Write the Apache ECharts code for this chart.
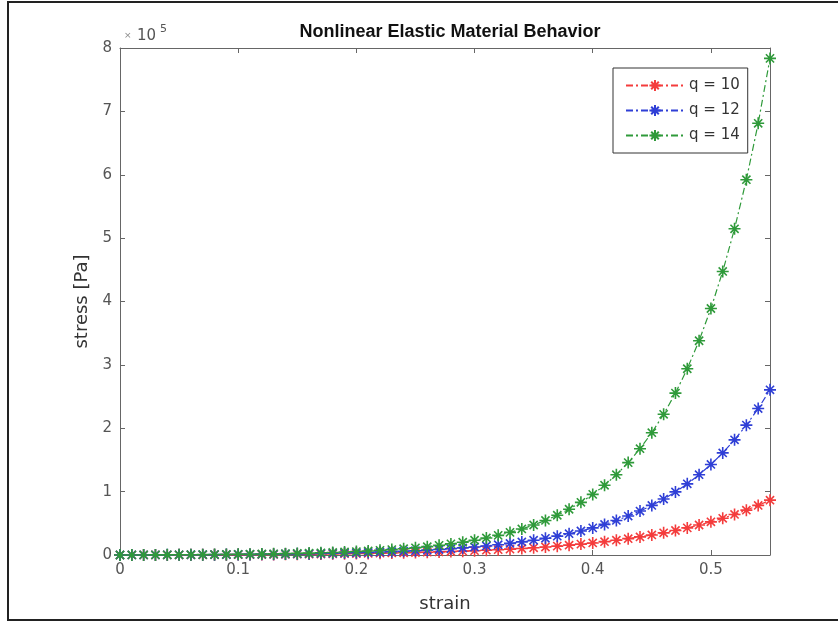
<!DOCTYPE html>
<html>
<head>
<meta charset="utf-8">
<title>Nonlinear Elastic Material Behavior</title>
<script src="https://cdn.jsdelivr.net/npm/echarts@6/dist/echarts.min.js"></script>
<style>
html, body { margin: 0; padding: 0; background: #fff; }
#chart { width: 838px; height: 623px; }
</style>
</head>
<body>
<div id="chart"></div>
<script>
// strain values (x)
var strain = [0, 0.01, 0.02, 0.03, 0.04, 0.05, 0.06, 0.07, 0.08, 0.09,
    0.10, 0.11, 0.12, 0.13, 0.14, 0.15, 0.16, 0.17, 0.18, 0.19,
    0.20, 0.21, 0.22, 0.23, 0.24, 0.25, 0.26, 0.27, 0.28, 0.29,
    0.30, 0.31, 0.32, 0.33, 0.34, 0.35, 0.36, 0.37, 0.38, 0.39,
    0.40, 0.41, 0.42, 0.43, 0.44, 0.45, 0.46, 0.47, 0.48, 0.49,
    0.50, 0.51, 0.52, 0.53, 0.54, 0.55];

// stress [Pa], q = 10
var stressQ10 = [0, 40, 80, 120, 170, 230, 290, 360, 440, 520,
    610, 710, 820, 950, 1080, 1240, 1400, 1590, 1790, 2020,
    2270, 2540, 2850, 3190, 3560, 3970, 4420, 4930, 5480, 6100,
    6780, 7530, 8350, 9270, 10280, 11400, 12640, 14000, 15510, 17180,
    19030, 21070, 23320, 25810, 28560, 31600, 34960, 38680, 42780, 47320,
    52330, 57870, 64000, 70760, 78240, 86510];

// stress [Pa], q = 12
var stressQ12 = [0, 45, 96, 154, 219, 292, 374, 467, 572, 691,
    824, 974, 1144, 1334, 1550, 1793, 2066, 2375, 2723, 3116,
    3558, 4057, 4620, 5254, 5969, 6775, 7684, 8709, 9865, 11170,
    12640, 14290, 16160, 18270, 20640, 23320, 26340, 29740, 33580, 37900,
    42780, 48280, 54480, 61470, 69360, 78240, 88270, 99570, 112300, 126670,
    142860, 161120, 181710, 204920, 231090, 260600];

// stress [Pa], q = 14
var stressQ14 = [0, 53, 115, 185, 267, 360, 467, 591, 733, 897,
    1085, 1301, 1550, 1836, 2165, 2544, 2980, 3481, 4057, 4720,
    5483, 6360, 7369, 8530, 9865, 11400, 13170, 15200, 17540, 20230,
    23320, 26880, 30970, 35680, 41090, 47320, 54480, 62720, 72200, 83100,
    95650, 110070, 126670, 145760, 167710, 192970, 222020, 255440, 293880, 338090,
    388950, 447450, 514750, 592150, 681190, 783610];

var seriesNames = ['q = 10', 'q = 12', 'q = 14'];
var seriesColors = ['#f43c3c', '#2f3fd6', '#2f9a3a'];
var xTicks = [0, 0.1, 0.2, 0.3, 0.4, 0.5];
var yTicks = [0, 1, 2, 3, 4, 5, 6, 7, 8]; // x 10^5

var asterisk = 'path://M5 0L5 10M0 5L10 5M1.6 1.6L8.4 8.4M8.4 1.6L1.6 8.4';
var tickFont = 'DejaVu Sans';

function pairs(ys) {
    var out = [];
    for (var i = 0; i < strain.length; i++) out.push([strain[i], ys[i]]);
    return out;
}

function makeSeries(name, ys, color) {
    return {
        name: name,
        type: 'line',
        data: pairs(ys),
        symbol: asterisk,
        symbolSize: 12,
        showAllSymbol: true,
        animation: false,
        lineStyle: { color: color, width: 1.2, type: [7, 3, 2, 3] },
        itemStyle: { color: color, borderColor: color, borderWidth: 1.6 }
    };
}

var chart = echarts.init(document.getElementById('chart'));

var axisLine = { show: true, onZero: false, lineStyle: { color: '#666', width: 1 } };
var tickIn = { show: true, inside: true, length: 5, lineStyle: { color: '#666' } };

chart.setOption({
    backgroundColor: '#fff',
    animation: false,
    title: {
        text: 'Nonlinear Elastic Material Behavior',
        left: 445,
        top: 18,
        textAlign: 'center',
        textStyle: { fontFamily: 'Liberation Sans', fontWeight: 'bold', fontSize: 18, color: '#111' }
    },
    grid: { left: 120, right: 68, top: 48, bottom: 68, containLabel: false },
    legend: {
        data: seriesNames,
        orient: 'vertical',
        left: 613,
        top: 68,
        padding: [10, 8, 10, 12],
        itemGap: 10,
        itemWidth: 58,
        itemHeight: 14,
        backgroundColor: '#fff',
        borderColor: '#333',
        borderWidth: 1,
        textStyle: { fontFamily: tickFont, fontSize: 15, color: '#333' }
    },
    xAxis: [{
        type: 'value',
        min: 0,
        max: 0.55,
        interval: 0.1,
        name: 'strain',
        nameLocation: 'middle',
        nameGap: 40,
        nameTextStyle: { fontFamily: tickFont, fontSize: 18, color: '#333' },
        axisLine: axisLine,
        axisTick: tickIn,
        splitLine: { show: false },
        axisLabel: {
            fontFamily: tickFont, fontSize: 15, color: '#555', margin: 8,
            formatter: function (v) { return xTicks.indexOf(Math.round(v * 100) / 100) >= 0 ? String(Math.round(v * 10) / 10) : ''; }
        }
    }, {
        type: 'value',
        position: 'top',
        min: 0,
        max: 0.55,
        interval: 0.1,
        axisLine: axisLine,
        axisTick: tickIn,
        axisLabel: { show: false },
        splitLine: { show: false }
    }],
    yAxis: [{
        type: 'value',
        min: 0,
        max: 8e5,
        interval: 1e5,
        name: 'stress [Pa]',
        nameLocation: 'middle',
        nameGap: 22,
        nameTextStyle: { fontFamily: tickFont, fontSize: 18, color: '#333' },
        axisLine: axisLine,
        axisTick: tickIn,
        splitLine: { show: false },
        axisLabel: {
            fontFamily: tickFont, fontSize: 15, color: '#555', margin: 8,
            formatter: function (v) { return String(yTicks[Math.round(v / 1e5)]); }
        }
    }, {
        type: 'value',
        position: 'right',
        min: 0,
        max: 8e5,
        interval: 1e5,
        axisLine: axisLine,
        axisTick: tickIn,
        axisLabel: { show: false },
        splitLine: { show: false }
    }],
    graphic: [
        {
            type: 'rect',
            shape: { x: 8, y: 2, width: 840, height: 618 },
            style: { fill: 'none', stroke: '#222', lineWidth: 2 },
            silent: true
        },
        {
            type: 'text',
            left: 124,
            top: 31,
            style: { text: '×', fontFamily: tickFont, fontSize: 9, fill: '#888' }
        },
        {
            type: 'text',
            left: 137,
            top: 29,
            style: { text: '10', fontFamily: tickFont, fontSize: 15, fill: '#555' }
        },
        {
            type: 'text',
            left: 160,
            top: 24,
            style: { text: '5', fontFamily: tickFont, fontSize: 11, fill: '#555' }
        }
    ],
    series: [
        makeSeries(seriesNames[0], stressQ10, seriesColors[0]),
        makeSeries(seriesNames[1], stressQ12, seriesColors[1]),
        makeSeries(seriesNames[2], stressQ14, seriesColors[2])
    ]
});
</script>
</body>
</html>
